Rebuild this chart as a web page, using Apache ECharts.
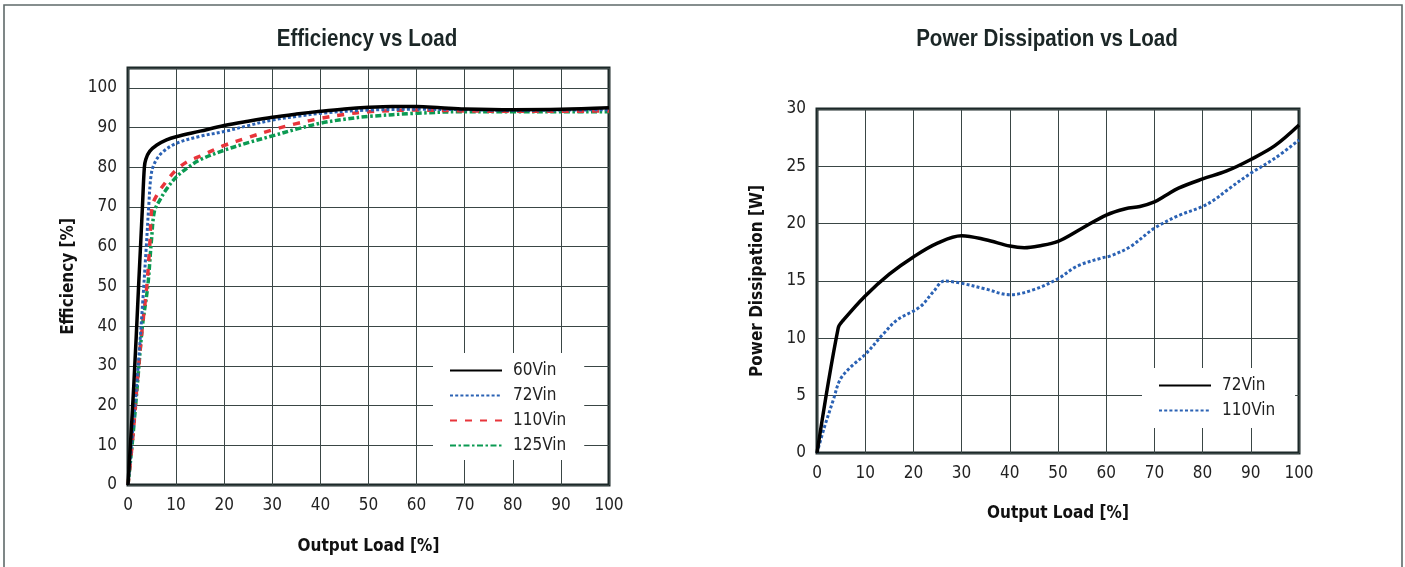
<!DOCTYPE html>
<html>
<head>
<meta charset="utf-8">
<script src="https://cdn.jsdelivr.net/npm/echarts@6/dist/echarts.min.js"></script>
<style>
html,body{margin:0;padding:0;background:#fff;}
#c{width:1405px;height:567px;}
</style>
</head>
<body>
<div id="c"></div>
<script>
// ---- Data: Efficiency vs Load (x = Output Load %, y = Efficiency %)
const eff60Vin = [[0,0],[1.2,25],[2.2,50],[3.0,70],[3.4,80],[3.7,82],[4.5,84],[6,85.6],[8,86.9],[10,87.7],[15,89.1],[20,90.5],[25,91.6],[30,92.6],[35,93.4],[40,94.1],[45,94.7],[50,95.1],[55,95.3],[60,95.3],[65,95.0],[70,94.7],[80,94.5],[90,94.6],[100,95.0]];
const eff72Vin = [[0,0],[1,14],[2,28],[3,45],[3.8,60],[4.3,70],[4.8,78],[5.5,81],[7,83.6],[10,86],[15,87.8],[20,89],[25,90.5],[30,91.9],[35,92.8],[40,93.6],[50,94.4],[60,94.6],[70,94.5],[80,94.3],[90,94.4],[100,94.5]];
const eff110Vin = [[0,0],[1,12],[2,27],[3,40],[3.9,50],[4.5,60],[5,70],[6,73],[8,76.5],[10,79.3],[12.5,81.5],[15,82.8],[20,85.5],[25,87.5],[30,89.4],[35,91],[40,92.3],[45,93.3],[50,94],[60,94.4],[70,94.2],[80,94.1],[90,94.1],[100,94.2]];
const eff125Vin = [[0,0],[1,12],[2,26],[3,40],[4.1,50],[4.9,62],[5.5,69],[6.5,71.5],[8,74.5],[10,77.5],[12.5,80],[15,81.9],[20,84.3],[25,86.2],[30,87.9],[35,89.6],[40,91.1],[45,92.1],[50,92.8],[60,93.6],[70,94],[80,94],[90,94],[100,94]];

// ---- Data: Power Dissipation vs Load (x = Output Load %, y = W)
const pd72Vin = [[0,0],[4.4,10.9],[5.5,11.6],[10,13.7],[15,15.6],[20,17.1],[25,18.3],[30,18.95],[35,18.6],[40,18.05],[43,17.9],[46,18.05],[50,18.45],[55,19.6],[60,20.75],[64,21.3],[67,21.5],[70,21.9],[72.5,22.5],[75,23.1],[80,23.9],[85,24.6],[90,25.6],[95,26.8],[100,28.6]];
const pd110Vin = [[0,0],[1.5,2.2],[3.4,4.65],[4.8,6.4],[7,7.5],[10,8.6],[13.8,10.4],[16.6,11.6],[21.4,12.75],[24,14.0],[26.5,15.0],[30,14.8],[35,14.3],[40,13.8],[45,14.25],[50,15.2],[54,16.3],[59,17.0],[61,17.2],[65,18.0],[70,19.6],[75,20.7],[80,21.5],[82.5,22.1],[85,22.9],[90,24.4],[95,25.7],[100,27.3]];

// ---- Tick values
const effYTicks = [0,10,20,30,40,50,60,70,80,90,100];
const pdYTicks = [0,5,10,15,20,25,30];

const FONT = "'DejaVu Sans Condensed','Liberation Sans Narrow',sans-serif";
const TITLE_FONT = "bold 24px 'Liberation Sans', Arial, sans-serif";
const GRID_LINE = '#3a4645';
const FRAME = '#1c2828';

const chart = echarts.init(document.getElementById('c'), null, {renderer:'canvas'});

function xAxis(gridIndex, nameGap){
  return {
    type:'value', gridIndex, min:0, max:100, interval:10,
    name:'Output Load [%]', nameLocation:'middle', nameGap,
    nameTextStyle:{fontFamily:FONT, fontSize:17, fontWeight:'bold', color:'#111'},
    axisLine:{show:false}, axisTick:{show:false},
    axisLabel:{fontFamily:FONT, fontSize:17, color:'#222', margin:12},
    splitLine:{show:true, lineStyle:{color:GRID_LINE, width:1}}
  };
}
function yAxis(gridIndex, max, interval, name, ticks){
  return {
    type:'value', gridIndex, min:0, max, interval,
    name, nameLocation:'middle', nameGap:51,
    nameTextStyle:{fontFamily:FONT, fontSize:17, fontWeight:'bold', color:'#111'},
    axisLine:{show:false}, axisTick:{show:false},
    axisLabel:{fontFamily:FONT, fontSize:17, color:'#222', margin:11,
      formatter:v => ticks.indexOf(v) >= 0 ? String(v) : ''},
    splitLine:{show:true, lineStyle:{color:GRID_LINE, width:1}}
  };
}
function legend(names, left, top, padding){
  return {
    data:names, orient:'vertical', left, top,
    backgroundColor:'#fff', padding, itemWidth:52, itemHeight:14, itemGap:8,
    itemStyle:{opacity:0},
    textStyle:{fontFamily:FONT, fontSize:17, color:'#222', lineHeight:14, padding:[0,0,0,6]},
    selectedMode:false
  };
}
function line(name, gi, data, color, width, type, z){
  return {name, type:'line', xAxisIndex:gi, yAxisIndex:gi, data, symbol:'none',
    smooth:0.35,
    lineStyle:{color, width, type, join:'round'}, itemStyle:{color}, z};
}

const option = {
  animation:false,
  backgroundColor:'#fff',
  graphic:[
    {type:'rect', silent:true, z:0,
     shape:{x:4, y:5, width:1398, height:620},
     style:{fill:'none', stroke:'#5f6a6a', lineWidth:1.6}},
    {type:'text', x:367, y:39, scaleX:0.857, silent:true,
     style:{text:'Efficiency vs Load', font:TITLE_FONT, fill:'#1b2626', align:'center', verticalAlign:'middle'}},
    {type:'text', x:1047, y:39, scaleX:0.857, silent:true,
     style:{text:'Power Dissipation vs Load', font:TITLE_FONT, fill:'#1b2626', align:'center', verticalAlign:'middle'}}
  ],
  grid:[
    {left:128, right:796, top:68, bottom:82, show:true, borderColor:FRAME, borderWidth:3, backgroundColor:'transparent'},
    {left:817, right:106, top:109, bottom:114, show:true, borderColor:FRAME, borderWidth:3, backgroundColor:'transparent'}
  ],
  xAxis:[ xAxis(0, 53), xAxis(1, 52) ],
  yAxis:[
    yAxis(0, 105, 10, 'Efficiency [%]', effYTicks),
    yAxis(1, 30, 5, 'Power Dissipation [W]', pdYTicks)
  ],
  legend:[
    legend(['60Vin','72Vin','110Vin','125Vin'], 433, 353, [9,18,6,16]),
    legend(['72Vin ','110Vin '], 1142, 368, [9,15,9,16])
  ],
  series:[
    line('60Vin', 0, eff60Vin, '#000', 3.5, 'solid', 5),
    line('72Vin', 0, eff72Vin, '#2b62b4', 3, [3,2.2], 4),
    line('110Vin', 0, eff110Vin, '#e8353b', 3.5, [7,8], 3),
    line('125Vin', 0, eff125Vin, '#0b9a52', 3.5, [6,2.5,2.5,2.5], 2),
    line('72Vin ', 1, pd72Vin, '#000', 3.5, 'solid', 5),
    line('110Vin ', 1, pd110Vin, '#2b62b4', 3, [3,2.2], 4)
  ]
};
chart.setOption(option);
</script>
</body>
</html>
